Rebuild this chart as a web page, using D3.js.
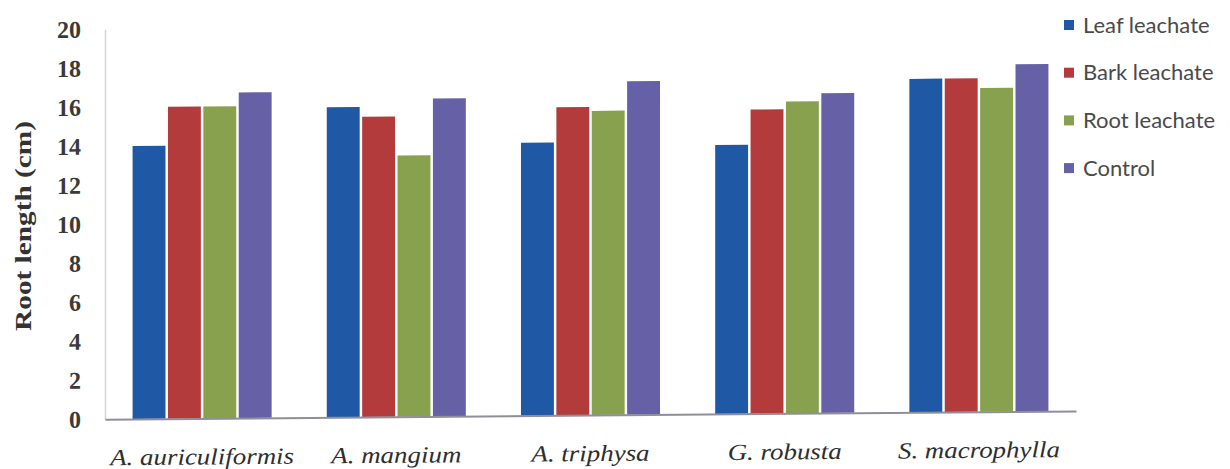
<!DOCTYPE html>
<html>
<head>
<meta charset="utf-8">
<script src="https://cdn.jsdelivr.net/npm/d3@7"></script>
<style>
  html, body { margin: 0; padding: 0; background: #ffffff; }
  svg { display: block; }
</style>
</head>
<body>
<svg id="chart" width="1230" height="469"></svg>
<script>
// Root length of seedlings under different leachate treatments
const species = ["A. auriculiformis", "A. mangium", "A. triphysa", "G. robusta", "S. macrophylla"];
const seriesNames = ["Leaf leachate", "Bark leachate", "Root leachate", "Control"];
const leafLeachate = [14.0, 15.9, 14.0, 13.8, 17.1];
const barkLeachate = [16.0, 15.4, 15.8, 15.6, 17.1];
const rootLeachate = [16.0, 13.4, 15.6, 16.0, 16.6];
const control      = [16.7, 16.3, 17.1, 16.4, 17.8];
const yTicks = [0, 2, 4, 6, 8, 10, 12, 14, 16, 18, 20];
const seriesColors = ["#1f59a5", "#b33b3b", "#87a14f", "#6660a7"];

const seriesValues = [leafLeachate, barkLeachate, rootLeachate, control];
const rows = species.map((s, i) => ({
  species: s,
  values: seriesNames.map((n, k) => ({ key: n, value: seriesValues[k][i] }))
}));

const svg = d3.select("#chart");

// Slight tilt of the whole plotting area
const plot = svg.append("g")
  .attr("transform", "translate(80,0) skewY(-0.494) translate(-80,0)");

const x0 = d3.scaleBand()
  .domain(species)
  .range([105, 1076])
  .paddingInner(0.284)
  .paddingOuter(0.142);

const x1 = d3.scaleBand()
  .domain(seriesNames)
  .range([0, x0.bandwidth()])
  .paddingInner(0.07);

const y = d3.scaleLinear()
  .domain([0, 20])
  .range([419.5, 29.5]);

const color = d3.scaleOrdinal().domain(seriesNames).range(seriesColors);

// Y axis: labels only, plus a faint vertical rule
const yAxis = plot.append("g")
  .attr("transform", "translate(105,0)")
  .call(d3.axisLeft(y).tickValues(yTicks).tickSize(0).tickPadding(24).tickFormat(d3.format("d")));
yAxis.select(".domain").attr("stroke", "#d4d4d4").attr("stroke-width", 1.5);
yAxis.selectAll(".tick text")
  .attr("font-family", "'Liberation Serif', 'Times New Roman', serif")
  .attr("font-weight", "bold")
  .attr("font-size", 24)
  .attr("fill", "#3a3a3a");

// Bars
const groups = plot.append("g")
  .selectAll("g")
  .data(rows)
  .join("g")
  .attr("transform", d => `translate(${x0(d.species)},0)`);

groups.selectAll("rect")
  .data(d => d.values)
  .join("rect")
  .attr("x", d => x1(d.key))
  .attr("width", x1.bandwidth())
  .attr("y", d => y(d.value))
  .attr("height", d => y(0) - y(d.value))
  .attr("fill", d => color(d.key));

// X axis baseline with species labels
const xAxis = plot.append("g")
  .attr("transform", `translate(0,${y(0)})`)
  .call(d3.axisBottom(x0).tickSize(0).tickPadding(46));
xAxis.select(".domain").attr("stroke", "#8f8f9c").attr("stroke-width", 2);
xAxis.selectAll(".tick text")
  .attr("font-family", "'Liberation Serif', 'Times New Roman', serif")
  .attr("font-style", "italic")
  .attr("font-size", 23)
  .attr("fill", "#2e2e2e")
  .attr("dy", "0")
  .each(function () {
    const len = this.getComputedTextLength();
    d3.select(this).attr("textLength", len * 1.17).attr("lengthAdjust", "spacingAndGlyphs");
  });

// Y axis title
const yTitle = svg.append("text")
  .attr("transform", "translate(31,226) rotate(-90)")
  .attr("text-anchor", "middle")
  .attr("font-family", "'Liberation Serif', 'Times New Roman', serif")
  .attr("font-weight", "bold")
  .attr("font-size", 24)
  .attr("fill", "#333333")
  .text("Root length (cm)");
yTitle.attr("textLength", yTitle.node().getComputedTextLength() * 1.22)
  .attr("lengthAdjust", "spacingAndGlyphs");

// Legend
const legend = svg.append("g").attr("transform", "translate(1064,0)");
const legendItems = legend.selectAll("g")
  .data(seriesNames)
  .join("g")
  .attr("transform", (d, i) => `translate(0,${25 + i * 47.7})`);
legendItems.append("rect")
  .attr("x", 0).attr("y", -5)
  .attr("width", 10).attr("height", 10)
  .attr("fill", d => color(d));
legendItems.append("text")
  .attr("x", 19)
  .attr("dy", "0.35em")
  .attr("font-family", "Lato, 'Open Sans', sans-serif")
  .attr("font-size", 22)
  .attr("fill", "#4a4a4a")
  .text(d => d);
</script>
</body>
</html>
